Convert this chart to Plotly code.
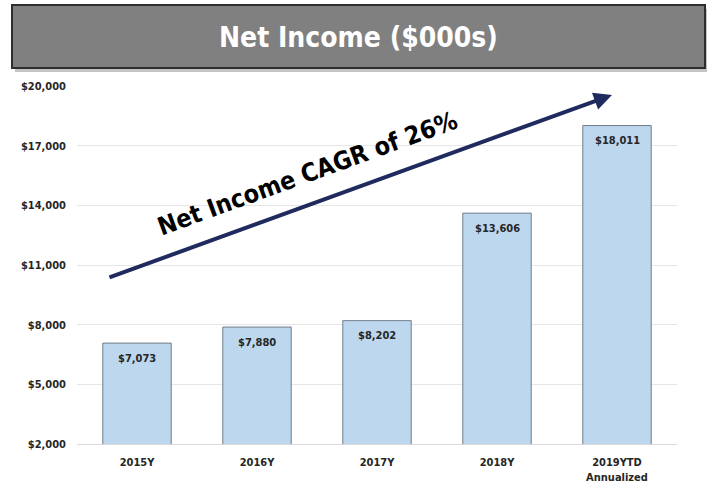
import plotly.graph_objects as go

# Net income by year, in thousands of dollars
years = ["2015Y", "2016Y", "2017Y", "2018Y", "2019YTD<br>Annualized"]
net_income = [7073, 7880, 8202, 13606, 18011]
y_ticks = [2000, 5000, 8000, 11000, 14000, 17000, 20000]
y_tick_text = ["$2,000", "$5,000", "$8,000", "$11,000", "$14,000", "$17,000", "$20,000"]
title_text = "Net Income ($000s)"
cagr_text = "Net Income CAGR of 26%"

COND = "DejaVu Sans Condensed, Liberation Sans, Arial, sans-serif"

fig = go.Figure()
fig.add_trace(go.Bar(
    x=years, y=net_income, base=0,
    width=0.57,
    marker=dict(color="#bdd7ee", line=dict(color="#6f7c89", width=1)),
    hoverinfo="skip",
))

# value labels sitting just below each bar top
for x, v in zip(years, net_income):
    fig.add_annotation(x=x, y=v, text=f"${v:,}", showarrow=False,
                       yshift=-15,
                       font=dict(family=COND, size=11, color="#262626", weight="bold"))

# growth arrow
fig.add_annotation(x=3.958, y=19550, ax=-0.242, ay=10350, xref="x", yref="y",
                   axref="x", ayref="y", text="", showarrow=True,
                   arrowhead=2, arrowsize=0.9, arrowwidth=4, arrowcolor="#1f2a5e")
fig.add_annotation(x=1.42, y=15600, xref="x", yref="y", text=cagr_text,
                   showarrow=False, textangle=-20,
                   xanchor="center", yanchor="middle",
                   font=dict(family=COND, size=25, color="#000000", weight="bold"))

# title banner (pixel positions converted to paper units)
def px_x(p):
    return (p - 77) / 600.0

def px_y(p):
    return (444 - p) / 358.0

fig.add_shape(type="rect", xref="paper", yref="paper",
              x0=px_x(15), x1=px_x(707), y0=px_y(72), y1=px_y(9),
              fillcolor="#c4c4c4", line=dict(width=0), layer="below")
fig.add_shape(type="rect", xref="paper", yref="paper",
              x0=px_x(12), x1=px_x(705), y0=px_y(68), y1=px_y(5),
              fillcolor="#808080", line=dict(color="#2e2e2e", width=2), layer="below")
fig.add_annotation(xref="paper", yref="paper", x=px_x(358), y=px_y(38),
                   xanchor="center", yanchor="middle",
                   text=title_text, showarrow=False,
                   font=dict(family=COND, size=28, color="#ffffff", weight="bold"))

fig.update_layout(
    width=712, height=490,
    margin=dict(l=77, r=35, t=86, b=46),
    plot_bgcolor="#ffffff", paper_bgcolor="#ffffff",
    showlegend=False,
    xaxis=dict(showgrid=False, showline=True, linecolor="#d9d9d9", linewidth=1,
               ticks="", range=[-0.5, 4.5], ticklabelstandoff=8, automargin=False,
               tickfont=dict(family=COND, size=11, color="#262626", weight="bold")),
    yaxis=dict(range=[2000, 20000], tickvals=y_ticks, ticktext=y_tick_text,
               showgrid=True, gridcolor="#e6e6e6", gridwidth=1, zeroline=False,
               showline=False, ticks="", ticklen=0, ticklabelstandoff=10,
               automargin=False,
               tickfont=dict(family=COND, size=11, color="#262626", weight="bold")),
)

fig.write_html("out.html")
